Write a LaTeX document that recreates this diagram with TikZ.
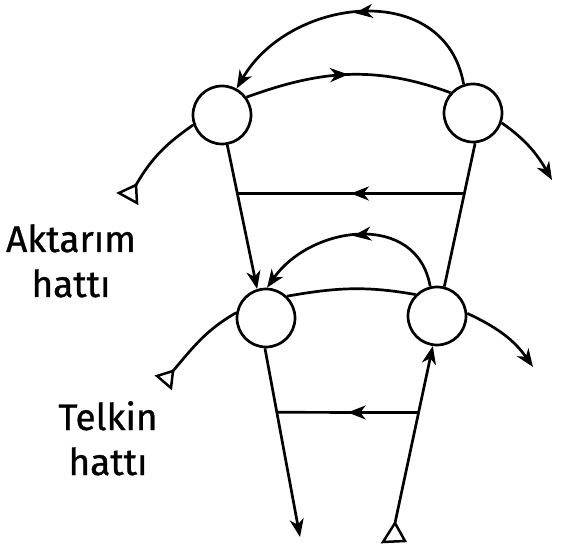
\documentclass[tikz,border=0pt]{standalone}
\usepackage{fontspec}
\setmainfont{Fira Sans}
\newfontfamily\lblfont{Fira Sans}[FakeBold=0.8]
\usetikzlibrary{arrows.meta,decorations.markings,calc}
\tikzset{
  ln/.style={line width=2.7pt},
  tip/.style={-{Stealth[length=18pt,width=14pt,inset=5.5pt]}},
  midarrow/.style={postaction={decorate},decoration={markings,
      mark=at position #1 with {\arrow{Stealth[length=18pt,width=14pt,inset=5.5pt]}}}},
  stn/.style={circle,draw,line width=2.7pt,minimum size=58pt,inner sep=0pt},
  lbl/.style={font=\lblfont\fontsize{37}{45}\selectfont,align=center,anchor=base,inner sep=0pt},
  gnd/.style={line width=2.5pt,line join=miter}
}
\begin{document}
\begin{tikzpicture}[x=1pt,y=1pt]
\useasboundingbox (0,0) rectangle (572,551);
% stations
\node[stn] (A) at (222,436) {};
\node[stn] (B) at (473,438) {};
\node[stn] (C) at (266,233) {};
\node[stn] (D) at (437,235) {};
% free ends
\coordinate (t1) at (136,366);
\coordinate (t2) at (173,180);
\coordinate (t3) at (395,28);
\coordinate (e1) at (300,14);
\coordinate (e2) at (552,371);
\coordinate (e3) at (533,184);
% upper pair
\draw[ln,tip,midarrow=0.5] (B.108) to[out=100,in=60,looseness=1.2] (A.61);
\draw[ln,midarrow=0.5] (A.36) to[out=20,in=160] (B.138);
\draw[ln] (A.199) to[out=215,in=60] (t1);
\draw[gnd] (t1) -- ++(-17,-8) -- ++(18,-10) -- cycle;
\draw[ln,tip] (B.-19) to[out=-35,in=120] (e2);
% transfer line
\draw[ln,tip] (A.-80) -- (C.107);
\draw[ln] (B.-86) -- (D.76);
\coordinate (h1) at ($(A.-80)!0.338!(C.107)$);
\coordinate (h2) at ($(B.-86)!0.35!(D.76)$);
\draw[ln,midarrow=0.5] (h2) -- (h1);
% lower pair
\draw[ln,tip,midarrow=0.5] (D.103) to[out=100,in=55,looseness=1.2] (C.88);
\draw[ln] (C.46) to[out=10,in=170] (D.135);
\draw[ln] (C.170) to[out=210,in=50] (t2);
\draw[gnd] (t2) -- ++(-16,-5) -- ++(14,-12) -- cycle;
\draw[ln,tip] (D.5) to[out=-25,in=125] (e3);
% feed line
\draw[ln,tip] (C.-92) -- (e1);
\draw[ln,tip] (t3) -- (D.-98);
\draw[gnd] (t3) -- ++(-12,-19) -- ++(22,1) -- cycle;
\coordinate (h3) at ($(C.-92)!0.339!(e1)$);
\coordinate (h4) at ($(t3)!0.624!(D.-98)$);
\draw[ln,midarrow=0.5] (h4) -- (h3);
% labels
\node[lbl] (L1) at (71,254) {Aktarım\\hattı};
\node[lbl] (L2) at (108,76) {Telkin\\hattı};
\end{tikzpicture}
\end{document}
